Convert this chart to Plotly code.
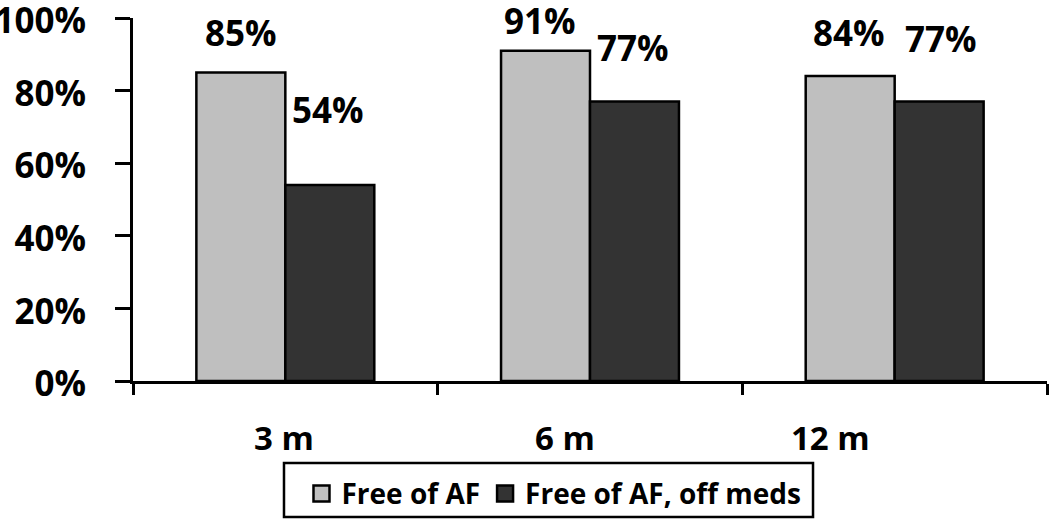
import plotly.graph_objects as go

categories = ["3 m", "6 m", "12 m"]
free_af = [85, 91, 84]
free_af_off_meds = [54, 77, 77]
series_names = ["Free of AF", "Free of AF, off meds"]
y_tick_vals = [0, 20, 40, 60, 80, 100]

LIGHT = "#BFBFBF"
DARK = "#333333"
FONT = "Open Sans"

# styling offsets (pixels) for the value labels and category labels
lift_af = [40, 30, 44]
lift_meds = [75, 54, 63]
dx_af = [0, -6, -1]
dx_meds = [-2, -2, 2]
cat_dx = [-1, -25, -64]
HALF_BAR = 44.5

fig = go.Figure()
fig.add_trace(go.Bar(x=categories, y=free_af, name=series_names[0],
                     marker=dict(color=LIGHT, line=dict(color="black", width=2.5)),
                     showlegend=False))
fig.add_trace(go.Bar(x=categories, y=free_af_off_meds, name=series_names[1],
                     marker=dict(color=DARK, line=dict(color="black", width=2.5)),
                     showlegend=False))
# legend-only entries with larger square swatches
for nm, col in zip(series_names, [LIGHT, DARK]):
    fig.add_trace(go.Scatter(x=[None], y=[None], mode="markers", name=nm,
                             marker=dict(symbol="square", size=20, color=col,
                                         line=dict(color="black", width=2.5))))

annotations = []
for i, c in enumerate(categories):
    annotations.append(dict(x=c, y=free_af[i], xref="x", yref="y",
                            text=f"{free_af[i]}%", showarrow=False,
                            xshift=-HALF_BAR + dx_af[i], yshift=lift_af[i],
                            yanchor="middle",
                            font=dict(family=FONT, size=35, color="black", weight="bold")))
    annotations.append(dict(x=c, y=free_af_off_meds[i], xref="x", yref="y",
                            text=f"{free_af_off_meds[i]}%", showarrow=False,
                            xshift=HALF_BAR + dx_meds[i], yshift=lift_meds[i],
                            yanchor="middle",
                            font=dict(family=FONT, size=35, color="black", weight="bold")))
    annotations.append(dict(x=c, y=0, xref="x", yref="y", text=c, showarrow=False,
                            xshift=cat_dx[i], yshift=-56, yanchor="middle",
                            font=dict(family=FONT, size=33, color="black", weight="bold")))

fig.update_layout(
    width=1050, height=522,
    margin=dict(l=133, r=3, t=18, b=141, autoexpand=False),
    paper_bgcolor="white", plot_bgcolor="white",
    barmode="group", bargap=0.416, bargroupgap=0,
    annotations=annotations,
    shapes=[dict(type="rect", xref="paper", yref="paper",
                 x0=0.1652, x1=0.744, y0=-0.3747, y1=-0.2259,
                 line=dict(color="black", width=2.5), fillcolor="rgba(0,0,0,0)")],
    showlegend=True,
    legend=dict(orientation="h", x=0.4606, xanchor="center", y=-0.242, yanchor="top",
                borderwidth=0, bgcolor="rgba(0,0,0,0)",
                font=dict(family=FONT, size=28, color="black", weight="bold"),
                itemsizing="trace"),
    xaxis=dict(showline=True, linecolor="black", linewidth=3,
               ticks="outside", tickson="boundaries", ticklen=11, tickwidth=3,
               tickcolor="black", showticklabels=False, showgrid=False, zeroline=False,
               automargin=False),
    yaxis=dict(range=[0, 100], tickvals=y_tick_vals,
               ticktext=[f"{v}%" for v in y_tick_vals],
               showline=True, linecolor="black", linewidth=3,
               ticks="outside", ticklen=15, tickwidth=3, tickcolor="black",
               showgrid=False, zeroline=False, ticklabelstandoff=22,
               ticklabelshift=3, ticklabeloverflow="allow", automargin=False,
               tickfont=dict(family=FONT, size=35, color="black", weight="bold")),
)

fig.write_html("out.html", config={"displayModeBar": False},
               post_script="document.body.style.margin='0';document.body.style.overflow='hidden';")
